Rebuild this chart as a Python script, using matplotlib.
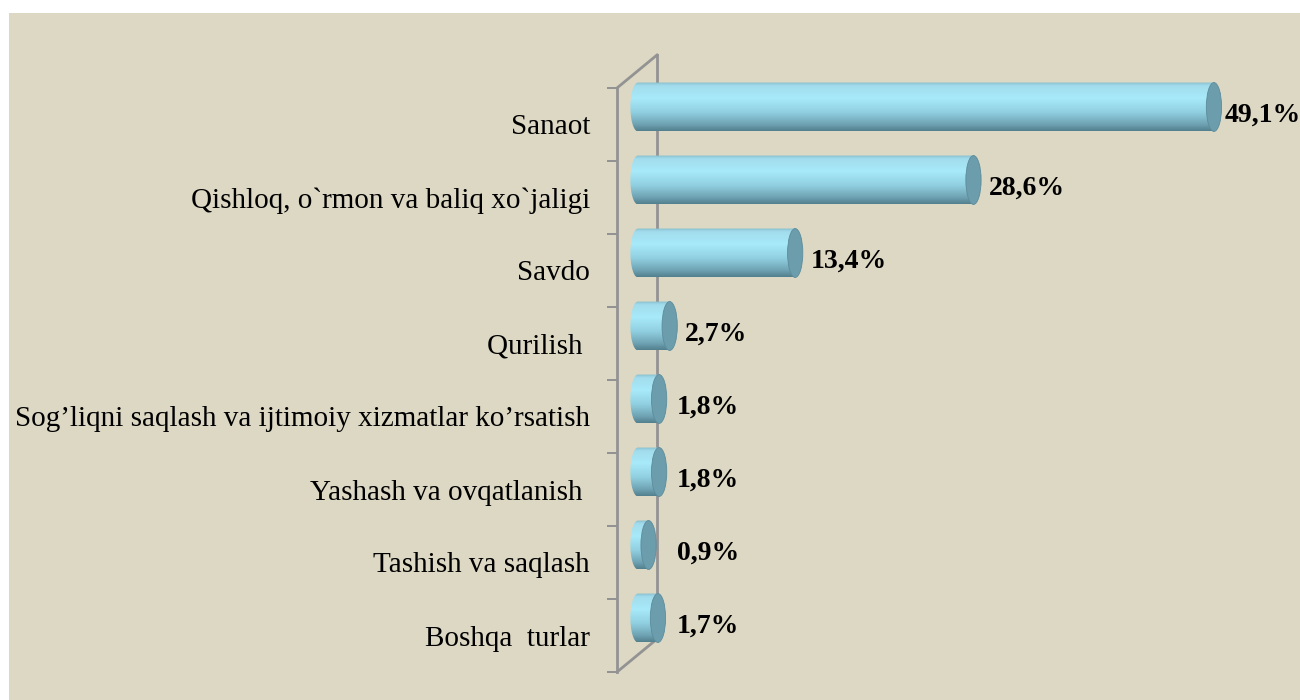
import numpy as np
import matplotlib
matplotlib.use("Agg")
import matplotlib.pyplot as plt
from matplotlib.patches import Ellipse, PathPatch, Rectangle
from matplotlib.path import Path
from matplotlib.colors import LinearSegmentedColormap
from matplotlib.lines import Line2D

# ----------------------------------
# Data
# ----------------------------------

categories = [
    "Sanaot",
    "Qishloq, o`rmon va baliq xo`jaligi",
    "Savdo",
    "Qurilish ",
    "Sog\u2019liqni saqlash va ijtimoiy xizmatlar ko\u2019rsatish",
    "Yashash va ovqatlanish ",
    "Tashish va saqlash",
    "Boshqa  turlar",
]

values = [49.1, 28.6, 13.4, 2.7, 1.8, 1.8, 0.9, 1.7]

value_labels = ["49,1%", "28,6%", "13,4%", "2,7%", "1,8%", "1,8%", "0,9%", "1,7%"]

# ----------------------------------
# Style
# ----------------------------------

bg_color = "#ddd8c3"
grid_color = "#939393"
cap_color = "#6c9dad"

body_cmap = LinearSegmentedColormap.from_list(
    "cyl",
    [
        (0.00, "#86bccb"),
        (0.07, "#a2dcec"),
        (0.33, "#a8eafa"),
        (0.62, "#90cfe0"),
        (0.86, "#6fa3b3"),
        (1.00, "#527f8d"),
    ],
)

W, H = 1300, 700
fig = plt.figure(figsize=(13, 7), dpi=100, facecolor="white")

# beige panel
fig.patches.append(
    Rectangle((9 / W, 0), 1 - 9 / W, 1 - 13 / H,
              transform=fig.transFigure, facecolor=bg_color,
              edgecolor="none", zorder=-10)
)

# axes = front plane of the chart frame
ax_left, ax_right = 617, 1300
ax_top, ax_bottom = 88, 672
ax = fig.add_axes([ax_left / W, 1 - ax_bottom / H,
                   (ax_right - ax_left) / W, (ax_bottom - ax_top) / H])
ax.set_facecolor("none")

px_per_unit = 11.73
x_min = -21 / px_per_unit
x_max = x_min + (ax_right - ax_left) / px_per_unit
band = 73.0
y_top = (ax_top - 107) / band
y_bot = y_top + len(categories)

bar_h = 0.67
cap_w = 1.3

# ----------------------------------
# Back wall of 3D frame
# ----------------------------------

dx = 40 / px_per_unit
dy = -33 / band

for xs, ys in [
    ([x_min + dx, x_min + dx], [y_top + dy, y_bot + dy]),
    ([x_min, x_min + dx], [y_top, y_top + dy]),
    ([x_min, x_min + dx], [y_bot, y_bot + dy]),
]:
    ax.add_line(Line2D(xs, ys, color=grid_color, lw=2,
                       clip_on=False, zorder=1))

# ----------------------------------
# Cylinders
# ----------------------------------

grad = np.linspace(0, 1, 256).reshape(-1, 1)
a = cap_w / 2

for i, v in enumerate(values):
    y0, y1 = i - bar_h / 2, i + bar_h / 2
    t = np.linspace(-np.pi / 2, np.pi / 2, 60)
    arc = np.column_stack([-a * np.cos(t), i + (bar_h / 2) * np.sin(t)])
    verts = np.vstack([arc, [[v, y1], [v, y0], arc[0]]])
    path = Path(verts, closed=True)
    clip = PathPatch(path, transform=ax.transData,
                     facecolor="none", edgecolor="none", clip_on=False)
    ax.add_patch(clip)
    im = ax.imshow(grad, cmap=body_cmap, aspect="auto",
                   extent=(-a, v, y1, y0), origin="upper",
                   interpolation="bilinear", zorder=3)
    im.set_clip_box(fig.bbox)
    im.set_clip_path(clip)

    ax.add_patch(Ellipse((v, i), cap_w, bar_h, facecolor=cap_color,
                         edgecolor="#5d8c9b", lw=0.6, zorder=4,
                         clip_on=False))

    ax.text(min(max(v + 1.3, 3.3), 50.0), i + 0.11, value_labels[i],
            ha="left", va="center", fontsize=20, fontweight="bold",
            family="Liberation Serif", color="black", zorder=5)

# ----------------------------------
# Axes
# ----------------------------------

ax.set_xlim(x_min, x_max)
ax.set_ylim(y_bot, y_top)

for s in ["top", "right", "bottom"]:
    ax.spines[s].set_visible(False)
ax.spines["left"].set_color(grid_color)
ax.spines["left"].set_linewidth(2)

ax.set_xticks([])
ax.set_yticks(np.arange(len(categories)) + y_top + 0.5)
ax.set_yticklabels(categories, fontsize=21, family="Liberation Serif")
ax.tick_params(axis="y", which="major", length=0, pad=19.4)
ax.set_yticks(y_top + np.arange(len(categories) + 1), minor=True)
ax.tick_params(axis="y", which="minor", length=7.2, width=1.44,
               color=grid_color)

fig.savefig("out.png", dpi=100, facecolor="white")
